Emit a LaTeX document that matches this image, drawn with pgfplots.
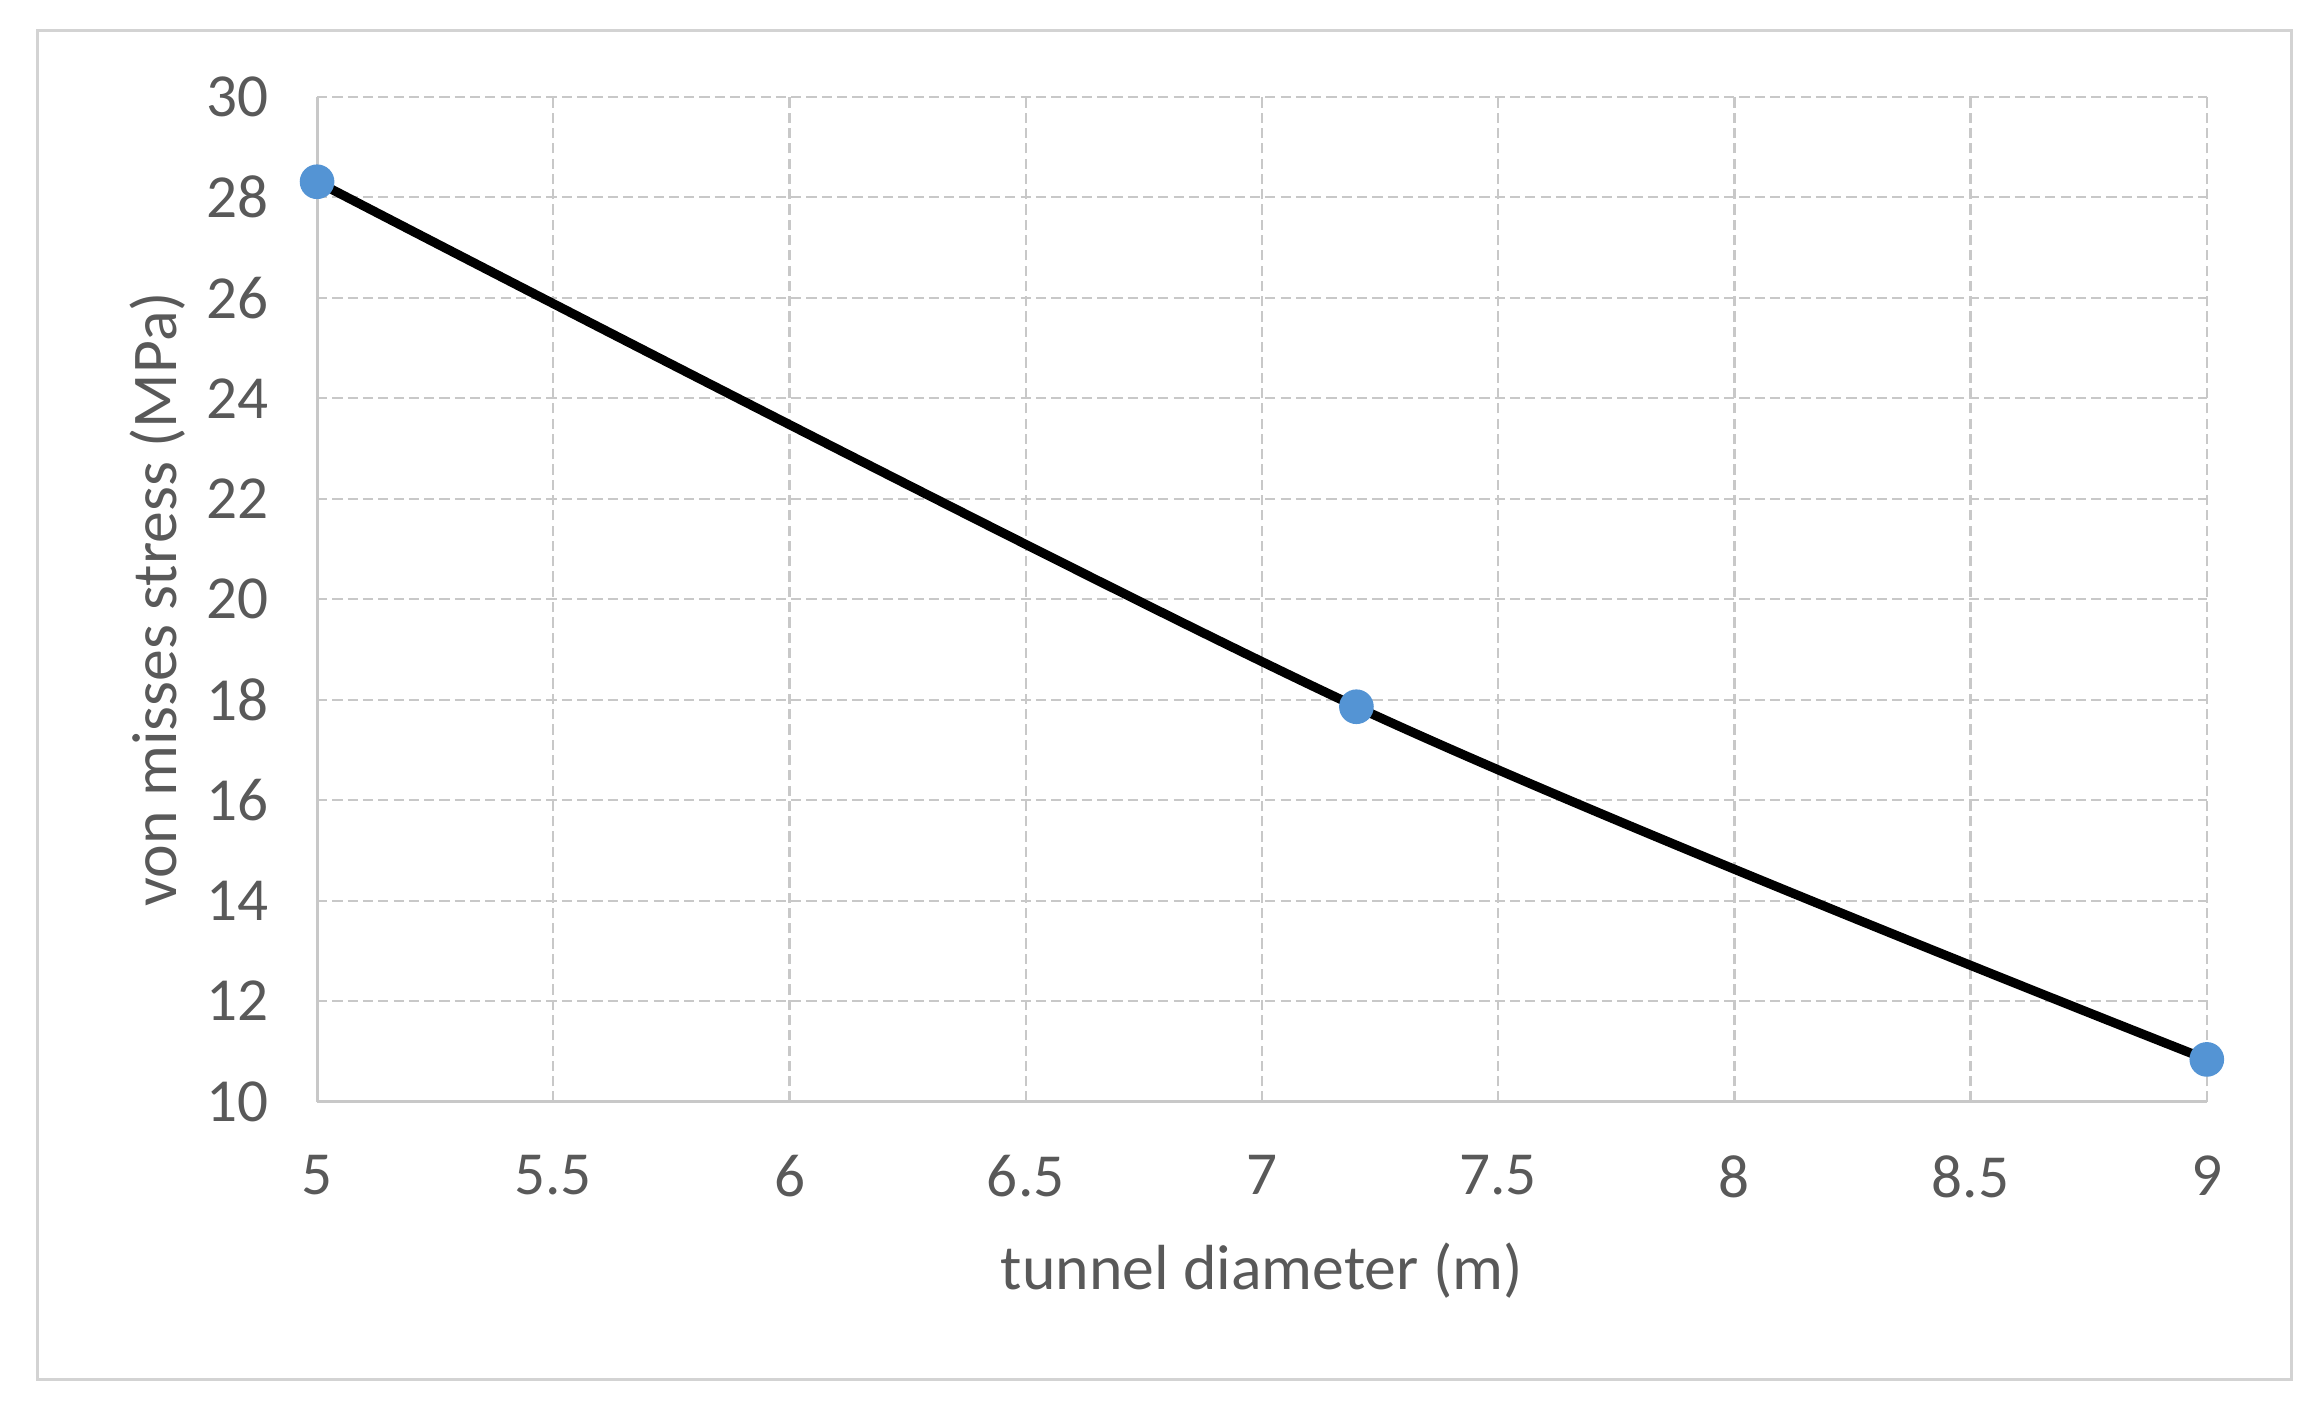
\documentclass[border=0pt]{standalone}
\usepackage{pgfplots}
\pgfplotsset{compat=1.18}
\usepackage{fontspec}
\setmainfont{Carlito}
\definecolor{txt}{RGB}{89,89,89}
\definecolor{mk}{RGB}{84,148,212}
\definecolor{gridc}{RGB}{200,200,200}
\begin{document}
\begin{tikzpicture}
\begin{axis}[
  name=ax,
  scale only axis,
  width=370.7pt, height=197.1pt,
  xmin=5, xmax=9, ymin=10, ymax=30,
  xtick={5,5.5,...,9}, ytick={10,12,...,30},
  xticklabels={5,5.5,6,6.5,7,7.5,8,8.5,9},
  axis x line*=bottom, axis y line*=left,
  axis line style={gridc, line width=0.6pt, -},
  major tick length=0pt,
  grid=major,
  major grid style={gridc, line width=0.45pt, dash pattern=on 2pt off 1pt},
  tick label style={font=\fontsize{12}{14}\selectfont, text=txt},
  /pgf/number format/assume math mode=true,
  xticklabel style={yshift=-7pt},
  yticklabel style={xshift=-6pt},
  label style={font=\fontsize{12.5}{15}\selectfont, text=txt},
  xlabel={tunnel diameter (m)},
  ylabel={von misses stress (MPa)},
  xlabel style={yshift=-2pt},
  ylabel style={yshift=-2.7pt},
  clip=false,
]
\addplot[black, line width=1.8pt, smooth, tension=0.5, no marks] coordinates {(5,28.31) (7.2,17.86) (9,10.84)};
\addplot[only marks, mark=*, mark size=3.2pt, mark options={fill=mk, draw=mk}] coordinates {(5,28.31) (7.2,17.86) (9,10.84)};
\end{axis}
\draw[gridc!80, line width=0.6pt] ([xshift=-54.9pt,yshift=-54.5pt]ax.south west) rectangle ([xshift=16.7pt,yshift=13.1pt]ax.north east);
\path ([xshift=-62.2pt,yshift=-61.6pt]ax.south west) rectangle ([xshift=22.4pt,yshift=19.0pt]ax.north east);
\end{tikzpicture}
\end{document}
